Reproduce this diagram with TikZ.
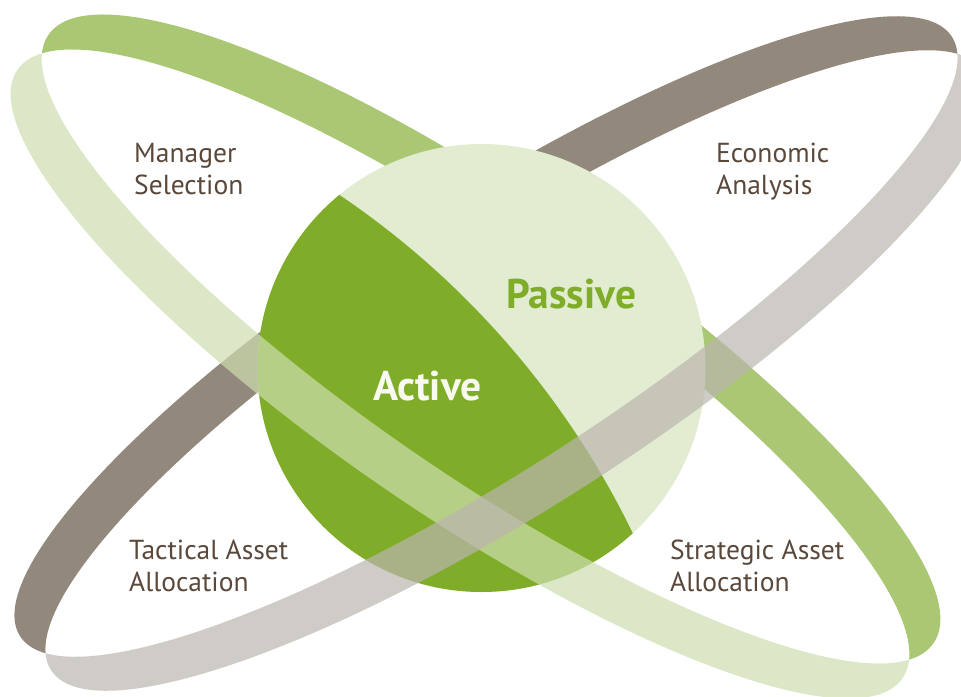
\documentclass[tikz,border=0pt]{standalone}
\usepackage{fontspec}
\setmainfont{PT Sans}
\definecolor{bandgreen}{RGB}{170,200,115}
\definecolor{lightgreenband}{RGB}{205,222,174}
\definecolor{bandgray}{RGB}{146,136,124}
\definecolor{lightgrayband}{RGB}{188,181,175}
\definecolor{passivefill}{RGB}{225,236,208}
\definecolor{activefill}{RGB}{127,173,42}
\definecolor{labelbrown}{RGB}{90,72,58}
\definecolor{activetext}{RGB}{248,250,240}
\begin{document}
\begin{tikzpicture}[x=1pt,y=-1pt,
  lbl/.style={anchor=base west, align=left, text=labelbrown, inner sep=0pt,
    font=\fontsize{27.5}{32}\selectfont},
  big/.style={anchor=base west, inner sep=0pt, font=\fontsize{41.5}{44}\selectfont\bfseries},
  gE/.style={x radius=537, y radius=137},
  rE/.style={x radius=554, y radius=134}]
\useasboundingbox (0,0) rectangle (961,696);
\fill[white] (0,0) rectangle (961,696);
% green ring, back half
\begin{scope}
  \clip[shift={(491,339)},rotate=-34.5] (0,0) ellipse [gE];
  \fill[bandgreen,even odd rule,shift={(460,374)},rotate=-34.5]
    (0,0) ellipse [gE] (-1500,-1500) rectangle (1500,1500);
\end{scope}
% gray ring, back half
\begin{scope}
  \clip[shift={(486,336.5)},rotate=32.75] (0,0) ellipse [rE];
  \fill[bandgray,even odd rule,shift={(517,370.5)},rotate=32.75]
    (0,0) ellipse [rE] (-1500,-1500) rectangle (1500,1500);
\end{scope}
% sphere
\fill[passivefill] (481.5,368) circle [radius=224];
\begin{scope}
  \clip (481.5,368) circle [radius=224];
  \fill[activefill] (-141.5,908) circle [radius=860];
\end{scope}
% green ring, front half
\begin{scope}
  \clip[shift={(460,374)},rotate=-34.5] (0,0) ellipse [gE];
  \fill[lightgreenband,fill opacity=0.7,even odd rule,shift={(491,339)},rotate=-34.5]
    (0,0) ellipse [gE] (-1500,-1500) rectangle (1500,1500);
\end{scope}
% gray ring, front half
\begin{scope}
  \clip[shift={(517,370.5)},rotate=32.75] (0,0) ellipse [rE];
  \fill[lightgrayband,fill opacity=0.7,even odd rule,shift={(486,336.5)},rotate=32.75]
    (0,0) ellipse [rE] (-1500,-1500) rectangle (1500,1500);
\end{scope}
% labels (anchor = baseline of the last line)
\node[lbl] (ms) at (134,194) {Manager\\Selection};
\node[lbl] (ea) at (716,194) {Economic\\Analysis};
\node[lbl] (ta) at (129,591) {Tactical Asset\\Allocation};
\node[lbl] (sa) at (670,591) {Strategic Asset\\Allocation};
\node[big,text=activefill] (pas) at (506,308) {Passive};
\node[big,text=activetext] (act) at (373,400) {Active};
\end{tikzpicture}
\end{document}
